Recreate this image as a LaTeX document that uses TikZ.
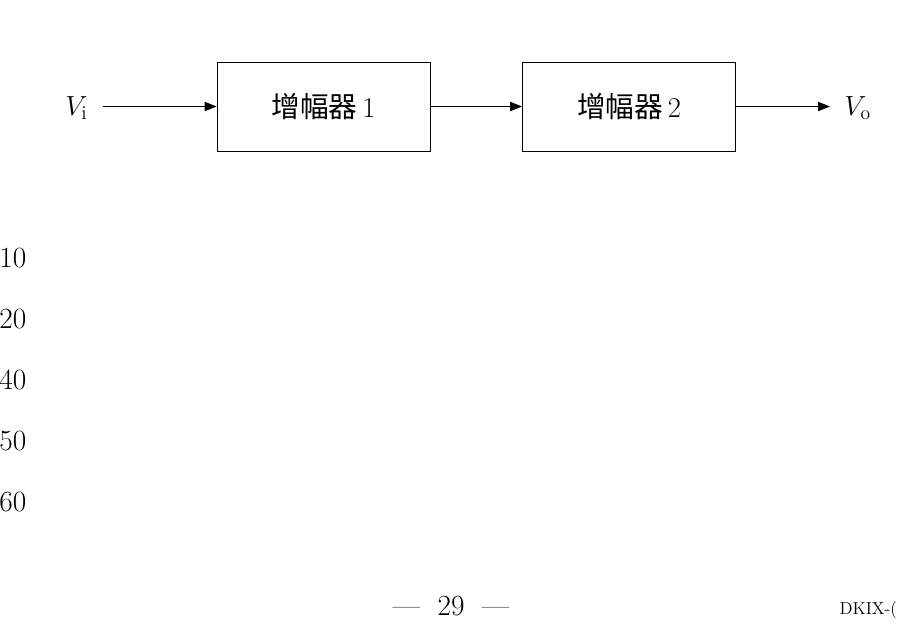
\documentclass[tikz,border=0pt]{standalone}
\usepackage{fontspec}
\newfontfamily\cjk{Noto Sans CJK SC}
\usetikzlibrary{arrows.meta}
\begin{document}
\begin{tikzpicture}[x=0.75pt,y=-0.75pt,
  box/.style={draw,line width=0.6pt,minimum width=159.75pt,minimum height=66.75pt,inner sep=0pt,font=\fontsize{21.5}{24}\selectfont},
  arr/.style={-{Triangle[length=9pt,width=7pt]},line width=0.6pt},
  lab/.style={font=\fontsize{21}{24}\selectfont},
  num/.style={font=\fontsize{22}{26}\selectfont,anchor=east}]
\useasboundingbox (0,0) rectangle (922,632);
\node[box] (b1) at (323.5,106.5) {{\cjk 增幅器}\,1};
\node[box] (b2) at (629,106.5) {{\cjk 增幅器}\,2};
\node[lab,anchor=east] (vi) at (92,108) {$V_{\mathrm{i}}$};
\node[lab,anchor=west] (vo) at (840,108) {$V_{\mathrm{o}}$};
\coordinate (a0) at (103,106.5);
\coordinate (a3) at (830,106.5);
\draw[arr] (a0) -- (b1.west);
\draw[arr] (b1.east) -- (b2.west);
\draw[arr] (b2.east) -- (a3);
\node[num] (n1) at (31,258) {10};
\node[num] (n2) at (31,319) {20};
\node[num] (n3) at (31,380) {40};
\node[num] (n4) at (31,441) {50};
\node[num] (n5) at (31,502) {60};
\node[num,anchor=center] (pg) at (451,606) {---\ \ 29\ \ ---};
\node[font=\fontsize{13}{16}\selectfont,anchor=west] (dk) at (835,610) {DKIX-(};
\end{tikzpicture}
\end{document}
